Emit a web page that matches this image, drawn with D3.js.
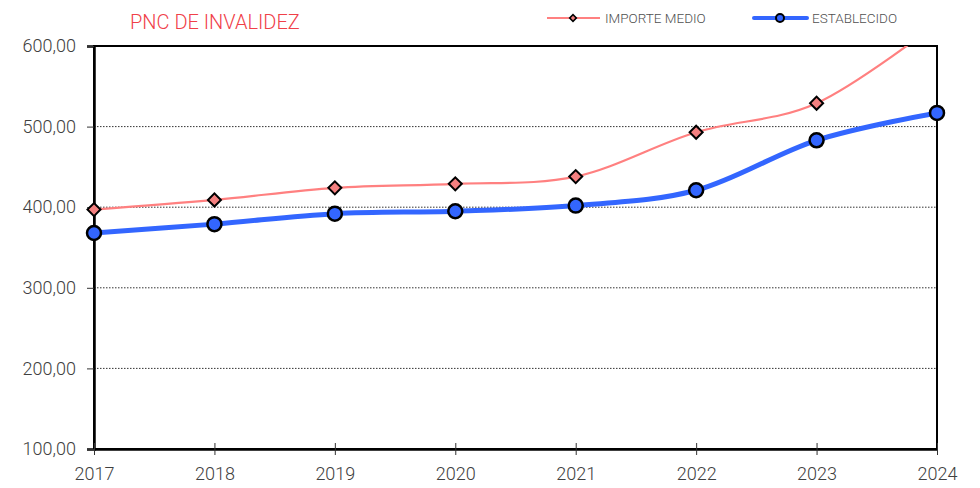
<!DOCTYPE html>
<html>
<head>
<meta charset="utf-8">
<script src="https://cdn.jsdelivr.net/npm/d3@7"></script>
<style>
  body { margin: 0; background: #fff; }
  text { font-family: Roboto, "Liberation Sans", sans-serif; font-weight: 300; }
</style>
</head>
<body>
<div id="chart"></div>
<script>
/* Data */
var years = [2017, 2018, 2019, 2020, 2021, 2022, 2023, 2024];
var importeMedio = [397, 409, 424, 429, 438, 493, 529, 628];
var establecido = [368, 379, 392, 395, 402, 421, 483, 517];
var yTicks = [100, 200, 300, 400, 500, 600];

var width = 980, height = 488;
var margin = {left: 94, right: 43, top: 46, bottom: 39};

var svg = d3.select("#chart").append("svg")
    .attr("width", width).attr("height", height);

var x = d3.scaleLinear().domain([2017, 2024]).range([margin.left, width - margin.right]);
var y = d3.scaleLinear().domain([100, 600]).range([height - margin.bottom, margin.top]);

var fmt = function(d) { return d3.format(".2f")(d).replace(".", ","); };

// clip so the pink line is cut at the top
svg.append("clipPath").attr("id", "plot-clip")
    .append("rect")
    .attr("x", margin.left).attr("y", margin.top)
    .attr("width", x(2024) - x(2017)).attr("height", y(100) - y(600));

/* grid */
svg.append("g").selectAll("line")
    .data(yTicks.filter(function(d) { return d > 100 && d < 600; }))
    .enter().append("line")
    .attr("x1", x(2017)).attr("x2", x(2024))
    .attr("y1", function(d) { return y(d); }).attr("y2", function(d) { return y(d); })
    .attr("stroke", "#333").attr("stroke-width", 1).attr("stroke-dasharray", "1.5,1.5");

/* frame */
svg.append("rect")
    .attr("x", x(2017)).attr("y", y(600))
    .attr("width", x(2024) - x(2017)).attr("height", y(100) - y(600))
    .attr("fill", "none").attr("stroke", "#000").attr("stroke-width", 2);

/* y axis */
var yAxis = svg.append("g")
    .attr("transform", "translate(" + x(2017) + ",0)")
    .call(d3.axisLeft(y).tickValues(yTicks).tickFormat(fmt).tickSize(7).tickPadding(11));
yAxis.select(".domain").attr("stroke", "#000").attr("stroke-width", 2.5);
yAxis.selectAll(".tick line").attr("stroke", "#333");
yAxis.selectAll("text").attr("font-size", 18).attr("fill", "#404040")
    .style("font-family", "Roboto, sans-serif").style("font-weight", 300);

/* x axis */
var xAxis = svg.append("g")
    .attr("transform", "translate(0," + y(100) + ")")
    .call(d3.axisBottom(x).tickValues(years).tickFormat(d3.format("d")).tickSizeInner(6).tickSizeOuter(0).tickPadding(12));
xAxis.select(".domain").attr("stroke", "#000").attr("stroke-width", 2.5);
xAxis.selectAll(".tick line").attr("stroke", "#333").attr("y1", -6);
xAxis.selectAll("text").attr("font-size", 18).attr("fill", "#404040")
    .style("font-family", "Roboto, sans-serif").style("font-weight", 300);

/* lines */
var line = function(vals) {
    return d3.line()
        .x(function(d, i) { return x(years[i]); })
        .y(function(d) { return y(d); })
        .curve(d3.curveCatmullRom.alpha(0))(vals);
};

var plot = svg.append("g").attr("clip-path", "url(#plot-clip)");

plot.append("path").attr("d", line(importeMedio))
    .attr("fill", "none").attr("stroke", "#ff8080").attr("stroke-width", 2.2);

plot.append("path").attr("d", line(establecido))
    .attr("fill", "none").attr("stroke", "#3366ff").attr("stroke-width", 5);

var diamond = d3.symbol().type(d3.symbolSquare).size(85);

svg.append("g").selectAll("path")
    .data(importeMedio.filter(function(d) { return d <= 600; }))
    .enter().append("path")
    .attr("d", diamond)
    .attr("transform", function(d, i) { return "translate(" + x(years[i]) + "," + y(d) + ") rotate(45)"; })
    .attr("fill", "#f48080").attr("stroke", "#000").attr("stroke-width", 2);

svg.append("g").selectAll("circle")
    .data(establecido)
    .enter().append("circle")
    .attr("cx", function(d, i) { return x(years[i]); })
    .attr("cy", function(d) { return y(d); })
    .attr("r", 7)
    .attr("fill", "#3366ff").attr("stroke", "#000").attr("stroke-width", 2.5);

/* title */
svg.append("text")
    .attr("x", 130).attr("y", 29)
    .attr("font-size", 20).attr("fill", "#f04048")
    .text("PNC DE INVALIDEZ");

/* legend */
var lg = svg.append("g");
lg.append("line").attr("x1", 547).attr("x2", 600).attr("y1", 18).attr("y2", 18)
    .attr("stroke", "#ff8080").attr("stroke-width", 2);
lg.append("path").attr("d", d3.symbol().type(d3.symbolSquare).size(22))
    .attr("transform", "translate(573,18) rotate(45)")
    .attr("fill", "#f48080").attr("stroke", "#000").attr("stroke-width", 1.6);
lg.append("text").attr("x", 605).attr("y", 23).attr("font-size", 13.5).attr("fill", "#505050")
    .text("IMPORTE MEDIO");

lg.append("line").attr("x1", 754).attr("x2", 807).attr("y1", 18).attr("y2", 18)
    .attr("stroke", "#3366ff").attr("stroke-width", 4).attr("stroke-linecap", "round");
lg.append("circle").attr("cx", 780).attr("cy", 18).attr("r", 4)
    .attr("fill", "#3366ff").attr("stroke", "#000").attr("stroke-width", 2);
lg.append("text").attr("x", 812).attr("y", 23).attr("font-size", 13.5).attr("fill", "#505050")
    .text("ESTABLECIDO");
</script>
</body>
</html>
